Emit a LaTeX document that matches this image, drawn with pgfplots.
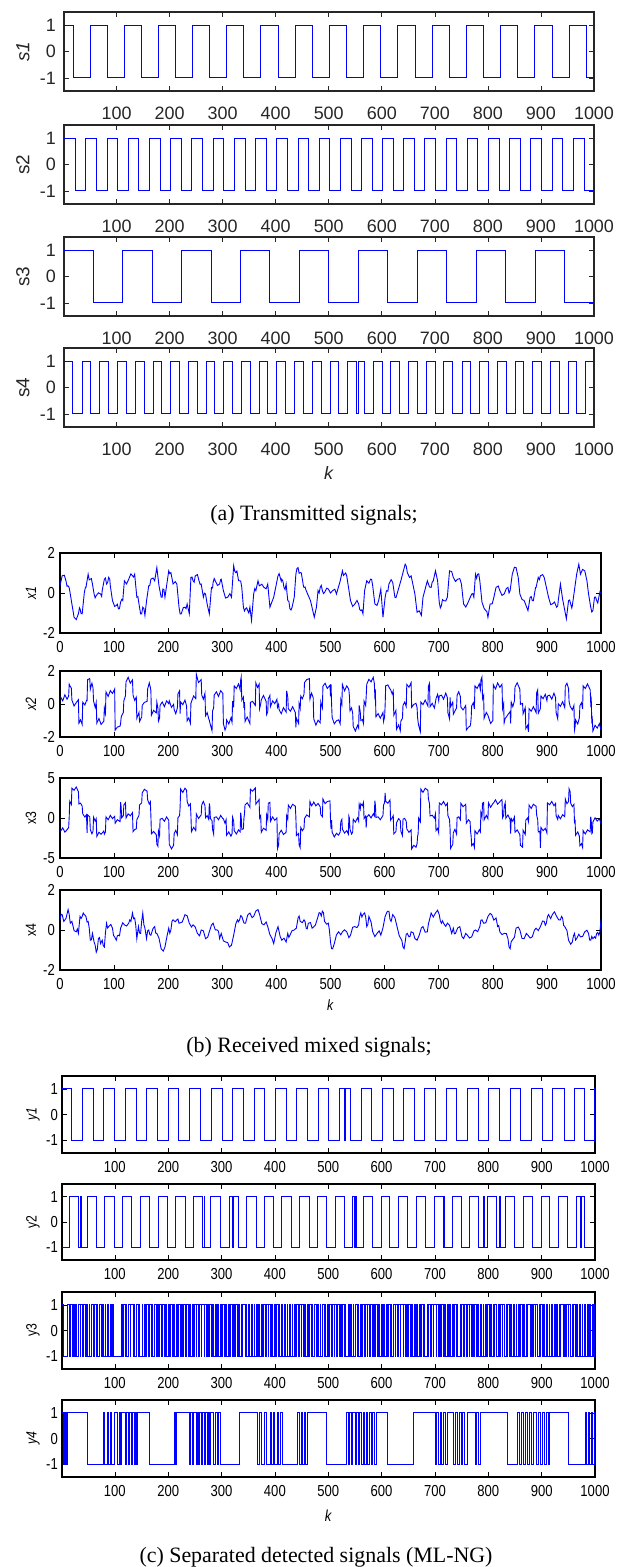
\documentclass[border=0pt]{standalone}
\usepackage{fontspec}
\setmainfont{Liberation Sans}
\newfontfamily\capfont{Liberation Serif}
\newfontfamily\nar[FakeStretch=0.82]{Liberation Sans}
\usepackage{pgfplots}
\pgfplotsset{compat=1.18}
\definecolor{mgray}{RGB}{38,38,38}
\definecolor{sig}{RGB}{0,0,255}

\pgfplotsset{
  base/.style={scale only axis, tick align=inside, major tick length=5bp,
    /pgf/number format/assume math mode=true, /pgf/number format/1000 sep={}},
  pa/.style={base, width=530bp, height=79bp, xmin=1, xmax=1000,
    ymin=-1.5, ymax=1.5, ytick={-1,0,1}, xtick={100,200,...,1000},
    axis line style={mgray, line width=1.1bp},
    every tick/.style={mgray, line width=0.6bp},
    tick label style={font=\fontsize{18}{18}\selectfont, text=mgray},
    xticklabel style={anchor=center, yshift=-22bp},
    yticklabel style={anchor=east, inner sep=0pt, xshift=-8bp},
    ylabel style={at={(axis description cs:-0.0774,0.5)}, anchor=center,
      font=\fontsize{19}{19}\selectfont, text=mgray}},
  pb/.style={base, width=541bp, xmin=0, xmax=1000, xtick={0,100,...,1000},
    ymin=-2, ymax=2, ytick={-2,0,2},
    axis line style={black, line width=1.1bp},
    every tick/.style={black, line width=0.6bp},
    tick label style={font=\fontsize{16}{16}\selectfont\nar},
    xticklabel style={anchor=center, yshift=-14bp},
    yticklabel style={anchor=east, inner sep=0pt, xshift=-5bp},
    ylabel style={at={(axis description cs:-0.0536,0.5)}, anchor=center,
      font=\fontsize{15}{15}\selectfont\nar}},
  pc/.style={base, width=533bp, xmin=1, xmax=1000, xtick={100,200,...,1000},
    ymin=-1.5, ymax=1.5, ytick={-1,0,1},
    axis line style={black, line width=1.1bp},
    every tick/.style={black, line width=0.6bp},
    tick label style={font=\fontsize{16}{16}\selectfont\nar},
    xticklabel style={anchor=center, yshift=-14bp},
    yticklabel style={anchor=east, inner sep=0pt, xshift=-4bp},
    ylabel style={at={(axis description cs:-0.0544,0.5)}, anchor=center,
      font=\fontsize{15}{15}\selectfont\nar}},
  sq/.style={const plot, sig, line width=0.8bp},
  ns/.style={sig, line width=0.9bp},
}

\begin{document}
\begin{tikzpicture}
\useasboundingbox (0,0) rectangle (632bp,-1567bp);

% ---------------- (a) transmitted signals
\begin{axis}[pa, at={(64bp,-12bp)}, anchor=north west, ylabel={\textit{s1}}]
\addplot[sq] coordinates {(1,1)(18,-1)(50,1)(82,-1)(114,1)(147,-1)(179,1)(211,-1)(243,1)(276,-1)(308,1)(340,-1)(372,1)(405,-1)(437,1)(469,-1)(501,1)(534,-1)(566,1)(598,-1)(630,1)(663,-1)(695,1)(727,-1)(759,1)(792,-1)(824,1)(856,-1)(888,1)(921,-1)(953,1)(985,-1)(1000,-1)};
\end{axis}
\begin{axis}[pa, at={(64bp,-125bp)}, anchor=north west, ylabel={s2}]
\addplot[sq] coordinates {(1,1)(22,-1)(42,1)(62,-1)(82,1)(102,-1)(122,1)(142,-1)(162,1)(182,-1)(202,1)(222,-1)(242,1)(262,-1)(282,1)(302,-1)(322,1)(342,-1)(362,1)(382,-1)(402,1)(422,-1)(442,1)(462,-1)(482,1)(502,-1)(522,1)(542,-1)(562,1)(582,-1)(602,1)(622,-1)(641,1)(661,-1)(681,1)(701,-1)(721,1)(741,-1)(761,1)(781,-1)(801,1)(821,-1)(841,1)(861,-1)(881,1)(901,-1)(921,1)(941,-1)(961,1)(981,-1)(1000,-1)};
\end{axis}
\begin{axis}[pa, at={(64bp,-237bp)}, anchor=north west, ylabel={s3}]
\addplot[sq] coordinates {(1,1)(56,-1)(112,1)(168,-1)(223,1)(278,-1)(334,1)(389,-1)(445,1)(500,-1)(556,1)(611,-1)(667,1)(722,-1)(778,1)(833,-1)(889,1)(944,-1)(1000,-1)};
\end{axis}
\begin{axis}[pa, at={(64bp,-348bp)}, anchor=north west, ylabel={s4},
  xlabel={\textit{k}}, xlabel style={at={(axis description cs:0.5,0)}, anchor=center, yshift=-46bp, font=\fontsize{18}{18}\selectfont, text=mgray}]
\addplot[sq] coordinates {(1,1)(17,-1)(35,1)(51,-1)(68,1)(85,-1)(102,1)(118,-1)(135,1)(152,-1)(169,1)(185,-1)(202,1)(218,-1)(235,1)(252,-1)(269,1)(285,-1)(302,1)(319,-1)(336,1)(352,-1)(369,1)(385,-1)(402,1)(419,-1)(436,1)(452,-1)(469,1)(486,-1)(503,1)(519,-1)(536,1)(553,-1)(556,1)(567,-1)(584,1)(601,-1)(617,1)(634,-1)(650,1)(667,-1)(684,1)(701,-1)(717,1)(734,-1)(751,1)(767,-1)(784,1)(801,-1)(818,1)(834,-1)(851,1)(867,-1)(884,1)(901,-1)(917,1)(934,-1)(951,1)(967,-1)(983,1)(1000,1)};
\end{axis}
\node[font=\fontsize{22}{22}\selectfont\capfont] at (314bp,-515bp) {(a) Transmitted signals;};

% ---------------- (b) received mixed signals
\begin{axis}[pb, height=80bp, at={(60bp,-553bp)}, anchor=north west, ylabel={\textit{x1}}]
\addplot[ns] coordinates {(0,0.36)(4,0.86)(8,0.89)(11,0.61)(13,0.34)(15,0.36)(17,0.26)(19,-0.05)(22,-0.55)(26,-1.21)(30,-1.33)(34,-1.04)(36,-0.74)(37,-0.79)(39,-1.02)(41,-1.04)(45,0.03)(47,0.28)(48,0.28)(52,0.94)(54,0.66)(56,0.69)(58,0.72)(60,0.45)(63,-0.05)(65,-0.24)(67,-0.13)(71,0.01)(75,-0.05)(77,-0.17)(78,0.12)(82,0.69)(84,0.75)(86,0.45)(88,0.52)(90,0.78)(92,0.69)(93,0.36)(97,-0.38)(101,-0.67)(104,-0.63)(106,-0.56)(108,-0.79)(110,-0.78)(112,-0.46)(114,-0.32)(116,-0.38)(119,0.61)(123,0.45)(127,0.69)(131,0.96)(134,0.86)(136,0.80)(138,0.94)(142,-0.21)(144,-0.18)(145,-0.38)(149,-1.04)(151,-1.04)(153,-0.71)(155,-0.77)(157,-1.12)(160,-0.38)(164,0.36)(166,0.38)(168,0.69)(172,0.75)(175,0.61)(179,1.27)(183,0.36)(187,-0.21)(189,-0.21)(190,0.2)(192,0.18)(194,-0.21)(201,1.11)(203,0.97)(205,1.02)(209,0.45)(213,0.57)(216,0.45)(220,-0.71)(222,-1.04)(224,-1.04)(228,-0.73)(231,-0.71)(233,-0.78)(235,-0.55)(239,-1.04)(242,0.78)(244,0.80)(246,0.61)(248,0.54)(250,0.86)(254,0.92)(257,0.61)(259,0.43)(261,0.45)(265,-0.21)(267,-0.01)(269,-0.05)(272,-0.55)(276,-1.04)(280,0.28)(282,0.25)(283,0.53)(285,0.72)(287,0.61)(291,0.38)(295,0.45)(297,0.67)(298,0.69)(302,0.12)(306,-0.25)(310,-0.21)(314,-0.03)(317,-0.21)(321,1.36)(323,1.09)(325,1.02)(327,1.10)(328,0.94)(330,0.62)(332,0.61)(334,0.60)(336,0.28)(339,-0.71)(341,-0.90)(343,-0.79)(345,-0.74)(347,-0.88)(349,-1.00)(351,-0.71)(354,-1.37)(358,-0.05)(360,0.22)(362,0.12)(366,0.61)(368,0.39)(369,0.36)(373,0.44)(377,0.28)(381,0.21)(384,0.45)(388,-0.71)(395,-0.21)(403,0.86)(405,0.97)(407,0.78)(409,0.59)(410,0.69)(412,0.59)(414,0.28)(416,0.17)(418,0.45)(421,-0.38)(423,-0.41)(425,-0.79)(427,-0.85)(429,-0.71)(433,-0.21)(436,0.94)(438,1.23)(440,1.27)(442,0.99)(444,1.02)(446,1.01)(448,0.69)(450,0.34)(451,0.28)(453,0.30)(455,0.12)(463,-0.38)(470,-1.21)(474,-0.71)(477,0.12)(479,0.00)(481,0.28)(483,0.38)(485,0.12)(487,-0.03)(489,0.03)(493,0.24)(496,0.2)(500,0.00)(504,0.12)(508,0.19)(511,-0.05)(518,0.61)(522,1.11)(524,0.88)(526,0.94)(528,1.00)(530,0.86)(537,-0.38)(541,-0.67)(545,-0.55)(549,-0.37)(552,-0.55)(554,-0.82)(556,-0.88)(558,-0.84)(560,-1.04)(563,0.12)(567,0.61)(571,0.49)(574,0.69)(576,0.68)(578,0.36)(582,-0.55)(586,-0.62)(589,-0.38)(593,0.2)(597,-1.21)(601,-0.21)(603,0.06)(604,0.12)(606,0.09)(608,0.45)(612,0.67)(615,0.53)(619,-0.21)(621,-0.23)(623,-0.05)(630,0.61)(638,1.44)(640,1.35)(642,1.02)(646,0.78)(649,0.86)(656,-0.05)(660,-0.96)(664,-0.89)(668,-1.12)(671,-0.21)(679,0.61)(683,0.30)(686,0.28)(688,0.55)(690,0.61)(694,1.11)(698,0.61)(701,-0.46)(703,-0.75)(705,-0.63)(707,-0.33)(709,-0.38)(713,-0.40)(716,-0.21)(720,1.11)(724,1.07)(727,0.78)(731,0.58)(735,0.69)(739,0.72)(742,0.45)(746,-0.55)(750,-0.70)(753,-0.55)(761,-0.05)(763,-0.03)(765,-0.21)(768,0.94)(770,0.74)(772,0.94)(774,0.96)(776,0.61)(780,-0.46)(784,-0.77)(787,-0.88)(789,-0.93)(791,-1.21)(795,-0.55)(799,-0.54)(802,-0.21)(806,0.28)(810,0.35)(813,0.12)(817,-0.12)(821,-0.05)(825,0.22)(828,0.28)(830,0.00)(832,0.12)(836,0.94)(840,1.29)(843,1.27)(847,0.78)(850,-0.05)(854,-0.32)(858,-0.38)(865,-0.88)(869,-0.21)(871,-0.18)(873,-0.38)(875,-0.38)(877,-0.05)(879,0.27)(880,0.28)(884,0.78)(886,0.67)(888,0.86)(892,0.92)(895,0.78)(903,-0.21)(907,-0.58)(910,-0.55)(914,-0.45)(918,-0.71)(920,-0.65)(921,-0.38)(925,0.45)(929,-0.3)(936,-1.29)(940,-0.38)(942,-0.35)(944,-0.55)(946,-0.75)(947,-0.63)(955,0.94)(959,1.44)(962,0.94)(966,1.18)(970,1.11)(974,0.61)(977,-0.05)(981,-0.71)(983,-0.95)(985,-0.88)(988,-0.21)(990,-0.20)(992,-0.38)(994,-0.50)(996,-0.21)(998,0.05)(1000,-0.05)};
\end{axis}
\begin{axis}[pb, height=66bp, at={(60bp,-671bp)}, anchor=north west, ylabel={\textit{x2}}]
\addplot[ns] coordinates {(1,0.44)(5,0.19)(9,0.56)(13,0.29)(16,0.48)(17,1.20)(18,1.12)(21,0.96)(22,0.24)(26,-0.12)(30,0.08)(34,0.26)(35,-1.16)(38,-0.96)(41,-1.24)(42,0.11)(46,-0.06)(49,0.21)(50,0.20)(51,1.48)(55,1.54)(56,0.89)(59,1.26)(61,0.99)(62,0.18)(65,-0.20)(67,0.10)(68,-1.16)(72,-0.88)(76,-1.24)(81,-1.04)(82,-0.24)(84,-0.56)(85,0.74)(89,0.46)(93,0.81)(97,0.64)(101,0.91)(102,-1.58)(106,-1.40)(111,-1.34)(112,-1.19)(113,-0.82)(114,-0.71)(117,-0.52)(118,0.20)(121,0.50)(122,1.34)(126,1.62)(130,1.26)(134,1.46)(135,0.54)(138,0.22)(141,0.42)(142,-0.86)(146,-0.51)(147,-1.06)(151,-0.79)(152,-0.08)(156,0.10)(161,0.16)(162,0.91)(165,1.28)(167,1.01)(168,0.80)(169,-0.68)(173,-0.38)(178,-0.54)(179,0.12)(181,-0.24)(182,-1.04)(184,-0.86)(185,-0.08)(189,0.12)(193,-0.16)(197,0.19)(201,0.02)(202,0.19)(206,-0.20)(210,-0.02)(211,-0.34)(214,-0.59)(217,-0.22)(218,0.61)(221,0.80)(222,-0.58)(223,0.12)(227,-0.04)(231,0.24)(234,-0.12)(235,-1.02)(238,-0.84)(241,-1.16)(242,0.04)(243,0.14)(247,0.49)(251,0.32)(252,1.80)(256,1.30)(261,1.48)(262,0.54)(265,0.29)(268,0.66)(269,-0.71)(272,-0.52)(275,-0.90)(276,-0.98)(277,-1.14)(278,-1.26)(281,-1.62)(282,-0.42)(284,-0.24)(285,0.54)(289,0.74)(293,0.46)(297,0.81)(301,0.64)(302,-1.19)(305,-1.58)(307,-1.40)(308,-0.96)(312,-1.21)(316,-0.84)(318,-1.11)(319,0.18)(321,-0.20)(322,1.10)(326,0.94)(330,1.22)(333,0.86)(334,1.46)(335,1.64)(336,0.22)(339,0.42)(340,-0.24)(341,0.11)(342,-1.06)(346,-0.79)(351,-1.18)(352,0.10)(356,0.16)(361,-0.09)(362,1.28)(365,1.01)(368,1.20)(369,-0.28)(371,0.02)(372,0.24)(376,0.52)(381,0.16)(382,-0.64)(384,-0.46)(385,0.32)(388,0.52)(389,-0.16)(393,0.19)(397,0.02)(401,0.29)(402,-0.20)(404,-0.02)(405,-0.34)(409,-0.59)(413,-0.22)(418,-0.49)(419,0.80)(421,0.42)(422,-0.28)(426,-0.44)(430,-0.16)(435,-0.52)(436,-1.42)(437,-0.86)(441,-1.18)(442,0.02)(444,-0.26)(445,0.49)(448,0.32)(451,0.59)(452,1.30)(456,1.48)(461,1.54)(462,0.29)(465,0.66)(468,0.39)(469,-0.90)(473,-1.28)(477,-0.98)(481,-1.14)(482,0.14)(485,-0.22)(486,1.08)(490,1.26)(494,0.94)(499,1.14)(500,0.46)(501,1.19)(502,0.02)(503,-0.81)(507,-1.20)(511,-1.02)(515,-0.96)(518,-1.21)(519,0.26)(521,-0.01)(522,1.18)(526,0.80)(530,1.10)(533,0.94)(534,0.84)(535,0.48)(536,-0.42)(539,-0.24)(541,-0.56)(542,-1.36)(546,-1.64)(550,-1.29)(552,-1.46)(553,-0.09)(555,-0.48)(556,-1.00)(559,-0.94)(561,-1.19)(562,0.18)(565,-0.09)(566,0.48)(567,1.20)(571,1.50)(575,1.34)(579,1.62)(581,1.26)(582,0.46)(583,0.64)(584,-0.78)(588,-0.58)(592,-0.86)(597,-0.51)(598,-1.06)(600,-0.79)(601,-0.08)(602,1.10)(606,1.16)(610,0.91)(611,0.88)(614,0.61)(616,0.80)(617,-0.68)(621,-0.38)(622,-1.54)(626,-1.26)(629,-1.62)(630,-1.04)(633,-0.86)(634,-0.08)(637,0.12)(640,-0.16)(641,1.19)(645,1.02)(649,1.29)(650,-0.20)(654,-0.02)(658,0.04)(660,-0.21)(661,-0.84)(662,-1.11)(663,-1.30)(666,-1.68)(667,0.12)(671,-0.04)(675,0.24)(680,-0.12)(681,1.08)(683,1.26)(684,-0.16)(688,0.04)(692,-0.24)(694,0.11)(695,0.32)(698,0.59)(700,0.20)(701,0.48)(705,0.54)(709,0.29)(713,0.66)(716,0.39)(717,-0.52)(720,-0.90)(721,0.40)(722,-0.16)(726,0.12)(727,-0.62)(730,-0.42)(733,-0.24)(734,0.54)(737,0.74)(740,0.46)(741,-0.19)(745,-0.36)(750,-0.09)(751,-1.58)(755,-1.40)(758,-1.34)(759,-1.21)(760,-0.84)(761,-0.11)(764,0.08)(766,-0.30)(767,1.10)(771,0.94)(775,1.22)(777,0.86)(778,1.46)(780,1.64)(781,0.32)(783,0.52)(784,-0.86)(788,-0.51)(791,-0.68)(792,-0.79)(796,-1.18)(800,-1.00)(801,1.16)(805,0.91)(809,1.28)(813,1.01)(817,1.20)(818,-0.28)(820,0.02)(821,-1.14)(823,-0.86)(824,-0.84)(828,-0.64)(832,-0.46)(833,-1.18)(834,0.12)(837,-0.16)(840,0.19)(841,1.02)(845,1.29)(850,0.90)(851,-0.02)(855,0.04)(856,-0.59)(860,-0.22)(861,-1.49)(864,-1.30)(866,-1.68)(867,-0.28)(871,-0.44)(875,-0.16)(880,-0.52)(881,0.68)(883,0.86)(884,-0.56)(887,-0.36)(888,-0.26)(889,0.49)(893,0.32)(897,0.59)(900,0.20)(901,0.48)(905,0.54)(909,0.29)(913,0.66)(916,0.39)(917,-0.52)(920,-0.90)(921,0.02)(925,-0.14)(929,0.14)(933,-0.22)(934,1.08)(937,1.26)(940,0.94)(941,0.14)(943,-0.14)(944,-0.19)(947,-0.36)(950,-0.09)(951,-1.58)(952,-1.40)(953,-0.96)(957,-1.21)(960,-0.84)(961,-0.11)(964,0.08)(966,-0.30)(967,1.10)(971,0.94)(975,1.22)(980,0.86)(981,0.06)(982,0.24)(983,-1.18)(984,-0.98)(985,-1.64)(989,-1.29)(993,-1.46)(997,-1.19)(1000,-1.58)};
\end{axis}
\begin{axis}[pb, height=80bp, at={(60bp,-778bp)}, anchor=north west, ymin=-5, ymax=5, ytick={-5,0,5}, ylabel={x3}]
\addplot[ns] coordinates {(1,-1.65)(5,-1.23)(9,-1.77)(13,-1.47)(16,-1.20)(17,0.12)(18,2.12)(21,1.70)(22,3.72)(26,3.47)(30,3.88)(34,3.29)(35,1.76)(38,1.85)(41,1.48)(42,0.53)(46,0.12)(49,0.41)(50,-1.86)(51,0.39)(55,0.15)(56,-1.43)(59,-1.97)(61,-1.67)(62,0.10)(65,-0.38)(67,-0.08)(68,-2.30)(72,-1.78)(76,-2.03)(81,-1.62)(82,-2.01)(84,-1.74)(85,0.15)(89,-0.22)(93,0.33)(97,-0.08)(101,0.21)(102,-0.66)(106,-0.21)(111,-0.45)(112,1.97)(113,1.43)(114,0.03)(117,0.30)(118,1.62)(121,1.92)(122,0.00)(126,0.52)(130,0.27)(134,0.68)(135,-1.71)(138,-1.44)(141,-1.35)(142,-0.22)(146,0.33)(147,1.62)(151,1.91)(152,3.14)(156,3.59)(161,3.35)(162,2.27)(165,1.73)(167,2.03)(168,0.30)(169,-1.98)(173,-1.68)(178,-2.10)(179,-3.28)(181,-3.53)(182,-1.62)(184,-2.21)(185,-0.14)(189,-0.05)(193,-0.42)(197,0.13)(201,-0.28)(202,-3.29)(206,-3.86)(210,-3.41)(211,-1.95)(214,-1.53)(217,-2.07)(218,0.03)(221,0.30)(222,1.32)(223,3.62)(227,3.20)(231,3.72)(234,3.47)(235,2.08)(238,1.49)(241,1.76)(242,0.35)(243,-1.72)(247,-1.17)(251,-1.58)(252,0.51)(256,-0.06)(261,0.39)(262,1.65)(265,2.07)(268,1.53)(269,0.03)(272,0.30)(275,-0.18)(276,1.82)(277,1.40)(278,-0.08)(281,-0.33)(282,-1.42)(284,-2.01)(285,0.06)(289,0.15)(293,-0.22)(297,0.33)(301,-0.08)(302,-0.09)(305,-0.66)(307,-0.21)(308,-2.15)(312,-1.73)(316,-2.27)(318,-1.97)(319,0.10)(321,-0.38)(322,-1.58)(326,-2.00)(330,-1.48)(333,-1.73)(334,0.68)(335,0.09)(336,-1.44)(339,-1.35)(340,-0.02)(341,0.53)(342,1.62)(346,1.91)(351,1.34)(352,3.59)(356,3.35)(361,3.77)(362,1.73)(365,2.03)(368,2.30)(369,0.02)(371,0.32)(372,-1.80)(376,-1.28)(381,-1.53)(382,0.38)(384,-0.21)(385,1.86)(388,1.95)(389,-0.42)(393,0.13)(397,-0.28)(401,0.01)(402,-3.86)(404,-3.41)(405,-1.95)(409,-1.53)(413,-2.07)(418,-1.77)(419,0.30)(421,-0.18)(422,1.62)(426,1.20)(430,1.72)(435,1.47)(436,0.08)(437,-2.21)(441,-1.94)(442,-3.35)(444,-3.72)(445,-1.17)(448,-1.58)(451,-1.29)(452,-0.06)(456,0.39)(461,0.15)(462,2.07)(465,1.53)(468,1.83)(469,2.00)(473,1.52)(477,1.82)(481,1.40)(482,0.42)(485,0.17)(486,2.38)(490,1.79)(494,2.06)(499,2.15)(500,-0.22)(501,-1.37)(502,-0.28)(503,-1.79)(507,-2.36)(511,-1.91)(515,-2.15)(518,-1.73)(519,-0.47)(521,-0.17)(522,-1.40)(526,-1.88)(530,-1.58)(533,-2.00)(534,0.22)(535,-0.03)(536,-1.42)(539,-2.01)(541,-1.74)(542,-0.15)(546,-0.52)(550,0.03)(552,-0.38)(553,1.71)(555,1.14)(556,1.79)(559,1.55)(561,1.97)(562,-0.07)(565,0.23)(566,-1.20)(567,0.12)(571,0.42)(575,0.00)(579,0.52)(581,0.27)(582,2.18)(583,1.59)(584,0.06)(588,0.15)(592,-0.22)(597,0.33)(598,1.62)(600,1.91)(601,3.14)(602,2.09)(606,1.85)(610,2.27)(611,-0.27)(614,0.03)(616,0.30)(617,-1.98)(621,-1.68)(622,-0.60)(626,-0.08)(629,-0.33)(630,-1.62)(633,-2.21)(634,-0.14)(637,-0.05)(640,-0.42)(641,-1.37)(645,-1.78)(649,-1.49)(650,-3.86)(654,-3.41)(658,-3.65)(660,-3.23)(661,-2.27)(662,-1.97)(663,0.00)(666,-0.48)(667,3.62)(671,3.20)(675,3.72)(680,3.47)(681,2.38)(683,1.79)(684,0.26)(688,0.35)(692,-0.02)(694,0.53)(695,-1.58)(698,-1.29)(700,-1.86)(701,1.89)(705,1.65)(709,2.07)(713,1.53)(716,1.83)(717,0.30)(720,-0.18)(721,-1.38)(722,-3.80)(726,-3.28)(727,-1.83)(730,-1.42)(733,-2.01)(734,0.06)(737,0.15)(740,-0.22)(741,1.83)(745,1.42)(750,1.71)(751,-0.66)(755,-0.21)(758,-0.45)(759,-1.73)(760,-2.27)(761,-3.47)(764,-3.20)(766,-3.68)(767,-1.58)(771,-2.00)(775,-1.48)(777,-1.73)(778,0.68)(780,0.09)(781,1.86)(783,1.95)(784,-0.22)(788,0.33)(791,-0.08)(792,1.91)(796,1.34)(800,1.79)(801,1.85)(805,2.27)(809,1.73)(813,2.03)(817,2.30)(818,0.02)(820,0.32)(821,1.40)(823,1.92)(824,-0.03)(828,0.38)(832,-0.21)(833,-1.94)(834,-0.05)(837,-0.42)(840,0.13)(841,-1.78)(845,-1.49)(850,-2.06)(851,-3.41)(855,-3.65)(856,-1.53)(860,-2.07)(861,-0.27)(864,0.00)(866,-0.48)(867,1.62)(871,1.20)(875,1.72)(880,1.47)(881,0.38)(883,-0.21)(884,-1.74)(887,-1.65)(888,-3.72)(889,-1.17)(893,-1.58)(897,-1.29)(900,-1.86)(901,1.89)(905,1.65)(909,2.07)(913,1.53)(916,1.83)(917,0.30)(920,-0.18)(921,0.32)(925,-0.10)(929,0.42)(933,0.17)(934,2.38)(937,1.79)(940,2.06)(941,3.65)(943,3.28)(944,1.83)(947,1.42)(950,1.71)(951,-0.66)(952,-0.21)(953,-2.15)(957,-1.73)(960,-2.27)(961,-3.47)(964,-3.20)(966,-3.68)(967,-1.58)(971,-2.00)(975,-1.48)(980,-1.73)(981,0.18)(982,-0.41)(983,-1.94)(984,-1.85)(985,-0.52)(989,0.03)(993,-0.38)(997,-0.09)(1000,-0.66)};
\end{axis}
\begin{axis}[pb, height=80bp, at={(60bp,-890bp)}, anchor=north west, ylabel={x4},
  xlabel={\textit{k}}, xlabel style={at={(axis description cs:0.5,0)}, anchor=center, yshift=-35bp, font=\fontsize{15}{15}\selectfont\nar}]
\addplot[ns] coordinates {(0,0.51)(2,0.79)(4,0.77)(7,0.43)(11,0.58)(15,1.02)(17,0.78)(19,0.34)(22,0.43)(26,-0.03)(30,-0.09)(32,0.05)(34,-0.17)(37,0.68)(39,0.58)(41,0.68)(43,0.85)(45,0.77)(48,0.68)(50,0.40)(52,0.43)(54,0.11)(56,-0.51)(58,-0.49)(60,-0.17)(63,-0.6)(65,-0.76)(67,-1.11)(69,-0.97)(71,-0.43)(73,-0.38)(75,-0.68)(78,-0.51)(80,-0.78)(82,-0.85)(84,-0.14)(86,0.34)(88,0.10)(90,0.17)(94,0.28)(97,0.09)(99,-0.28)(101,-0.34)(104,-0.51)(106,-0.29)(108,-0.26)(110,-0.29)(112,0.09)(116,0.36)(119,0.26)(123,0.20)(127,0.34)(129,0.51)(131,0.43)(134,0.85)(136,0.57)(138,0.6)(140,0.24)(142,-0.43)(145,0.17)(147,-0.15)(149,-0.17)(151,0.44)(153,0.85)(155,0.27)(157,0.09)(160,-0.43)(162,-0.04)(164,0)(166,-0.23)(168,-0.26)(172,0.08)(175,0.17)(177,-0.16)(179,-0.17)(183,-0.41)(187,-0.94)(191,-1.05)(194,-0.85)(198,-0.28)(201,0.09)(203,-0.16)(205,0)(207,0.44)(209,0.51)(213,0.41)(216,0.51)(218,0.55)(220,0.34)(226,0.40)(231,0.77)(235,0.71)(239,0.34)(243,0.15)(246,0.26)(250,0.15)(254,-0.17)(258,-0.29)(261,0)(265,-0.04)(269,-0.43)(273,-0.36)(276,-0.09)(280,0.25)(283,0.34)(287,0.01)(291,0)(293,-0.07)(295,-0.43)(298,-0.17)(302,-0.54)(306,-0.6)(310,-0.63)(313,-0.85)(317,-0.76)(321,-0.26)(325,0.31)(328,0.51)(330,0.41)(332,0.51)(334,0.72)(336,0.68)(340,0.35)(343,0.34)(347,0.75)(351,0.85)(355,0.62)(358,0.68)(362,0.95)(366,1.02)(369,0.77)(373,0.32)(377,0.26)(381,0.40)(384,0.17)(388,-0.23)(392,-0.43)(395,-0.68)(399,-0.14)(403,0.17)(407,-0.33)(410,-0.51)(414,-0.41)(418,-0.6)(421,-0.17)(423,-0.37)(425,-0.26)(429,-0.03)(433,0)(437,0.10)(440,0.6)(442,0.70)(444,0.43)(448,0.37)(451,0.51)(453,0.42)(455,0.09)(457,0.06)(459,0.34)(463,0.37)(466,0.09)(472,0.24)(477,0.68)(479,0.87)(481,0.85)(483,0.70)(485,0.94)(487,0.87)(489,0.43)(493,0.29)(496,0.34)(498,-0.01)(500,-0.6)(502,-0.93)(504,-0.94)(507,-0.68)(511,-0.24)(515,-0.09)(519,-0.24)(522,-0.09)(526,0.01)(530,-0.09)(534,-0.38)(537,-0.26)(541,0.14)(545,0.17)(549,0.12)(552,0.26)(554,0.68)(556,0.85)(558,0.65)(560,0.77)(563,0.85)(565,0.66)(567,0.17)(569,0.28)(571,0.68)(575,0.40)(578,-0.09)(582,-0.33)(586,-0.17)(590,-0.04)(593,-0.26)(597,0.11)(601,0.68)(605,0.93)(608,0.94)(610,0.53)(612,0.43)(615,0.77)(619,0.62)(623,0.17)(627,-0.28)(630,-0.43)(632,-0.54)(634,-0.85)(636,-0.93)(638,-0.6)(640,-0.21)(642,-0.17)(645,-0.34)(647,-0.32)(649,-0.09)(653,-0.14)(656,-0.43)(660,-0.51)(664,-0.26)(668,0.11)(671,0.17)(675,-0.11)(679,-0.09)(681,0.31)(683,0.51)(686,0.85)(690,0.65)(694,0.85)(698,0.99)(701,0.77)(703,0.46)(705,0.34)(707,0.46)(709,0.34)(713,0.18)(716,0.34)(720,0.24)(724,-0.17)(727,0.09)(729,-0.19)(731,-0.17)(735,0.10)(739,0.17)(743,-0.33)(746,-0.43)(750,-0.17)(753,-0.26)(757,-0.40)(761,-0.34)(765,-0.05)(768,0)(772,-0.08)(776,0.17)(778,0.49)(780,0.51)(783,0.34)(787,0.36)(791,0.68)(795,0.83)(798,0.77)(802,0.49)(806,0.6)(809,0.17)(811,0.22)(813,-0.09)(817,-0.23)(821,-0.17)(825,-0.18)(828,-0.43)(830,-0.85)(832,-0.94)(834,-0.58)(836,-0.51)(840,-0.36)(843,0.09)(847,0.15)(850,0)(854,-0.42)(858,-0.43)(862,-0.17)(865,-0.26)(869,-0.40)(873,-0.34)(877,0.00)(880,0.09)(884,-0.03)(888,0.17)(892,0.45)(895,0.43)(897,0.24)(899,0.34)(901,0.66)(903,0.77)(907,0.57)(910,0.77)(914,0.91)(918,0.68)(922,0.50)(925,0.51)(927,0.68)(929,0.6)(931,0.23)(933,0.17)(937,-0.02)(940,-0.51)(944,-0.71)(947,-0.6)(949,-0.29)(951,-0.17)(953,-0.50)(955,-0.43)(959,-0.21)(962,-0.34)(966,-0.32)(970,-0.09)(974,-0.01)(977,-0.17)(979,-0.50)(981,-0.51)(983,-0.32)(985,-0.43)(988,-0.34)(990,-0.41)(992,-0.17)(994,-0.12)(996,-0.26)(998,-0.08)(1000,0.51)};
\end{axis}
\node[font=\fontsize{22}{22}\selectfont\capfont] at (309bp,-1047bp) {(b) Received mixed signals;};

% ---------------- (c) separated detected signals
\begin{axis}[pc, height=77bp, at={(62bp,-1076bp)}, anchor=north west, ylabel={\textit{y1}}]
\addplot[sq] coordinates {(1,1)(18,-1)(39,1)(59,-1)(79,1)(99,-1)(120,1)(140,-1)(160,1)(180,-1)(200,1)(220,-1)(240,1)(261,-1)(281,1)(301,-1)(321,1)(341,-1)(361,1)(381,-1)(401,1)(421,-1)(441,1)(461,-1)(481,1)(501,-1)(520,1)(530,-1)(533,1)(541,-1)(562,1)(581,-1)(602,1)(622,-1)(641,1)(662,-1)(681,1)(701,-1)(721,1)(741,-1)(761,1)(781,-1)(800,1)(821,-1)(841,1)(861,-1)(881,1)(902,-1)(921,1)(942,-1)(962,1)(981,-1)(998,1)(1000,1)};
\end{axis}
\begin{axis}[pc, height=76bp, at={(62bp,-1184bp)}, anchor=north west, ylabel={y2}]
\addplot[sq] coordinates {(1,-1)(15,1)(32,-1)(36,1)(38,-1)(48,1)(66,-1)(81,1)(99,-1)(115,1)(132,-1)(148,1)(165,-1)(181,1)(199,-1)(214,1)(232,-1)(247,1)(265,-1)(267,1)(268,-1)(280,1)(298,-1)(314,1)(320,-1)(322,1)(331,-1)(347,1)(365,-1)(380,1)(398,-1)(413,1)(431,-1)(446,1)(464,-1)(480,1)(497,-1)(513,1)(531,-1)(546,1)(549,-1)(551,1)(553,-1)(565,1)(582,-1)(599,1)(615,-1)(632,1)(648,-1)(665,1)(682,-1)(699,1)(715,-1)(717,1)(718,-1)(732,1)(749,-1)(765,1)(782,-1)(791,1)(792,-1)(799,1)(816,-1)(821,1)(822,-1)(832,1)(849,-1)(865,1)(882,-1)(899,1)(915,-1)(932,1)(949,-1)(965,1)(973,-1)(974,1)(981,-1)(1000,-1)};
\end{axis}
\begin{axis}[pc, height=77bp, at={(62bp,-1292bp)}, anchor=north west, ylabel={y3}]
\addplot[sq] coordinates {(1,1)(4,-1)(12,1)(14,-1)(17,1)(20,-1)(22,1)(25,-1)(27,1)(28,-1)(31,1)(35,-1)(36,1)(40,-1)(42,1)(44,-1)(47,1)(49,-1)(52,1)(53,-1)(57,1)(60,-1)(61,1)(65,-1)(67,1)(68,-1)(72,1)(74,-1)(76,1)(79,-1)(82,1)(83,-1)(86,1)(88,-1)(91,1)(93,-1)(95,1)(98,-1)(112,1)(114,-1)(116,1)(119,-1)(121,1)(122,-1)(126,1)(129,-1)(130,1)(134,-1)(136,1)(137,-1)(141,1)(144,-1)(146,1)(147,-1)(151,1)(152,-1)(155,1)(158,-1)(160,1)(163,-1)(164,1)(168,-1)(170,1)(171,-1)(175,1)(177,-1)(180,1)(181,-1)(184,1)(188,-1)(189,1)(193,-1)(195,1)(196,-1)(200,1)(202,-1)(204,1)(207,-1)(210,1)(211,-1)(215,1)(217,-1)(219,1)(222,-1)(225,1)(226,-1)(229,1)(233,-1)(234,1)(238,-1)(240,1)(241,-1)(245,1)(247,-1)(250,1)(252,-1)(253,1)(257,-1)(259,1)(262,-1)(263,1)(267,-1)(268,1)(271,-1)(274,1)(276,-1)(277,1)(281,-1)(283,1)(284,-1)(288,1)(290,-1)(293,1)(294,-1)(298,1)(300,-1)(301,1)(305,-1)(308,1)(309,-1)(313,1)(315,-1)(316,1)(320,-1)(322,1)(325,-1)(326,1)(330,-1)(331,1)(334,-1)(337,1)(339,-1)(340,1)(344,-1)(346,1)(347,-1)(351,1)(353,-1)(356,1)(357,-1)(361,1)(362,-1)(365,1)(368,-1)(370,1)(371,-1)(375,1)(377,-1)(378,1)(382,-1)(384,1)(387,-1)(388,1)(392,-1)(393,1)(396,-1)(399,1)(401,-1)(402,1)(406,-1)(408,1)(409,-1)(413,1)(415,-1)(418,1)(419,-1)(423,1)(424,-1)(427,1)(430,-1)(432,1)(433,-1)(437,1)(439,-1)(440,1)(444,-1)(446,1)(449,-1)(450,1)(454,-1)(455,1)(458,-1)(461,1)(463,-1)(464,1)(468,-1)(470,1)(471,-1)(475,1)(477,-1)(480,1)(481,-1)(485,1)(486,-1)(489,1)(492,-1)(494,1)(495,-1)(499,1)(501,-1)(502,1)(506,-1)(508,1)(511,-1)(512,1)(516,-1)(517,1)(520,-1)(523,1)(525,-1)(526,1)(530,-1)(532,1)(533,-1)(537,1)(539,-1)(542,1)(543,-1)(547,1)(548,-1)(551,1)(554,-1)(556,1)(557,-1)(561,1)(563,-1)(564,1)(568,-1)(570,1)(573,-1)(574,1)(578,-1)(579,1)(582,-1)(585,1)(587,-1)(588,1)(592,-1)(594,1)(595,-1)(599,1)(601,-1)(604,1)(605,-1)(609,1)(610,-1)(613,1)(616,-1)(618,1)(619,-1)(623,1)(625,-1)(626,1)(630,-1)(632,1)(635,-1)(636,1)(640,-1)(641,1)(644,-1)(647,1)(649,-1)(650,1)(654,-1)(656,1)(657,-1)(661,1)(663,-1)(666,1)(667,-1)(671,1)(672,-1)(675,1)(678,-1)(680,1)(681,-1)(685,1)(687,-1)(688,1)(692,-1)(694,1)(697,-1)(698,1)(702,-1)(703,1)(706,-1)(709,1)(711,-1)(712,1)(716,-1)(718,1)(719,-1)(723,1)(725,-1)(728,1)(729,-1)(733,1)(734,-1)(737,1)(740,-1)(742,1)(743,-1)(747,1)(749,-1)(750,1)(754,-1)(756,1)(759,-1)(760,1)(764,-1)(765,1)(768,-1)(771,1)(773,-1)(774,1)(778,-1)(780,1)(781,-1)(785,1)(787,-1)(790,1)(791,-1)(795,1)(796,-1)(799,1)(802,-1)(804,1)(805,-1)(809,1)(811,-1)(812,1)(816,-1)(818,1)(821,-1)(822,1)(826,-1)(827,1)(830,-1)(833,1)(835,-1)(836,1)(840,-1)(842,1)(843,-1)(847,1)(849,-1)(852,1)(853,-1)(857,1)(858,-1)(861,1)(864,-1)(866,1)(867,-1)(871,1)(873,-1)(874,1)(878,-1)(880,1)(883,-1)(884,1)(888,-1)(889,1)(892,-1)(895,1)(897,-1)(898,1)(902,-1)(904,1)(905,-1)(909,1)(911,-1)(914,1)(915,-1)(919,1)(920,-1)(923,1)(926,-1)(928,1)(929,-1)(933,1)(935,-1)(936,1)(940,-1)(942,1)(945,-1)(946,1)(950,-1)(951,1)(954,-1)(957,1)(959,-1)(960,1)(964,-1)(966,1)(967,-1)(971,1)(973,-1)(976,1)(977,-1)(981,1)(982,-1)(985,1)(988,-1)(990,1)(991,-1)(995,1)(997,-1)(998,1)(1000,1)};
\end{axis}
\begin{axis}[pc, height=77bp, at={(62bp,-1400bp)}, anchor=north west, ylabel={\textit{y4}},
  xlabel={\textit{k}}, xlabel style={at={(axis description cs:0.5,0)}, anchor=center, yshift=-39bp, font=\fontsize{16}{16}\selectfont\nar}]
\addplot[sq] coordinates {(1,1)(3,-1)(4,1)(6,-1)(8,1)(10,-1)(12,1)(48,-1)(78,1)(80,-1)(86,1)(88,-1)(92,1)(94,-1)(100,1)(104,-1)(108,1)(110,-1)(112,1)(120,-1)(121,1)(126,-1)(127,1)(131,-1)(133,1)(137,-1)(138,1)(141,-1)(142,1)(164,-1)(211,1)(213,-1)(216,1)(240,-1)(242,1)(246,-1)(248,1)(252,-1)(254,1)(257,-1)(258,1)(262,-1)(264,1)(267,-1)(270,1)(274,-1)(275,1)(278,-1)(280,1)(285,-1)(288,1)(292,-1)(294,1)(297,-1)(334,1)(368,-1)(371,1)(374,-1)(380,1)(384,-1)(391,1)(394,-1)(397,1)(400,-1)(404,1)(407,-1)(410,1)(414,-1)(443,1)(446,-1)(449,1)(452,-1)(455,1)(458,-1)(461,1)(497,-1)(534,1)(537,-1)(540,1)(543,-1)(546,1)(550,-1)(553,1)(556,-1)(558,1)(562,-1)(565,1)(568,-1)(571,1)(574,-1)(577,1)(580,-1)(583,1)(587,-1)(590,1)(610,-1)(660,1)(700,-1)(703,1)(706,-1)(710,1)(713,-1)(716,1)(720,-1)(724,1)(735,-1)(738,1)(742,-1)(746,1)(749,-1)(752,1)(756,-1)(760,1)(775,-1)(778,1)(782,-1)(785,1)(836,-1)(855,1)(858,-1)(862,1)(866,-1)(870,1)(873,-1)(877,1)(881,-1)(885,1)(890,-1)(894,1)(898,-1)(902,1)(905,-1)(908,1)(912,-1)(915,1)(950,-1)(982,1)(984,-1)(987,1)(990,-1)(993,1)(996,-1)(998,1)(1000,1)};
\end{axis}
\node[font=\fontsize{22}{22}\selectfont\capfont] at (316bp,-1557bp) {(c) Separated detected signals (ML-NG)};
\end{tikzpicture}
\end{document}
